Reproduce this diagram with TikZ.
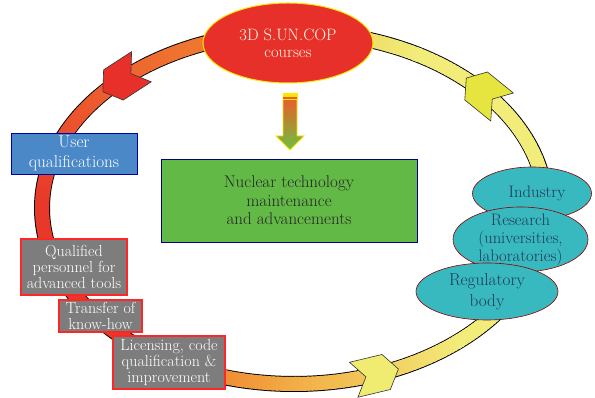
\documentclass[tikz,border=0pt]{standalone}
\usepackage{fontspec}
\usepackage{xcolor}
\usetikzlibrary{positioning,shapes.geometric,shapes.symbols,calc}
\definecolor{ringred}{HTML}{E8382A}
\definecolor{ringorange}{HTML}{F08A32}
\definecolor{ringamber}{HTML}{F2AE46}
\definecolor{ringyellow}{HTML}{F2EC7A}
\definecolor{ringgold}{HTML}{EBCF52}
\definecolor{sunred}{HTML}{E8302A}
\definecolor{arrowyellow}{HTML}{E6E43E}
\definecolor{flowtop}{HTML}{E8602A}
\definecolor{flowmid}{HTML}{D8CC34}
\definecolor{flowbot}{HTML}{6CC040}
\definecolor{techgreen}{HTML}{62B946}
\definecolor{userblue}{HTML}{4A88C8}
\definecolor{boxgray}{HTML}{7D7D7D}
\definecolor{actorcyan}{HTML}{38B9BF}
\definecolor{actortext}{HTML}{1F3A55}

\begin{document}
\begin{tikzpicture}[x=1pt,y=1pt,
  txt/.style={font=\fontsize{17}{18.5}\selectfont,align=center,inner sep=0pt},
  gbox/.style={txt,draw=red!85!white,line width=1.2pt,fill=boxgray,text=white,font=\fontsize{16}{16.2}\selectfont},
  actor/.style={txt,ellipse,inner sep=-8pt,draw=red!55!black,line width=0.6pt,fill=actorcyan,text=actortext,font=\fontsize{16.6}{18}\selectfont},
  chev/.style={signal,signal to=east,signal from=west,signal pointer angle=110,minimum width=46pt,minimum height=36pt,inner sep=0pt,draw=black!80,line width=0.6pt}]
  \useasboundingbox (0,0) rectangle (595,398);
  \coordinate (ctr) at (294,190);
  \draw[line width=16pt] (ctr) ellipse[x radius=252,y radius=176];
  \foreach \s/\e/\ca/\cb in {92/178/ringorange/ringred,178/236/ringred/ringred,236/252/ringred/ringorange,252/270/ringorange/ringamber,270/310/ringamber/ringyellow,310/420/ringyellow/ringyellow,420/448/ringyellow/ringgold}
    \foreach \a in {\s,...,\e} {
      \pgfmathtruncatemacro\p{100*(\a-\s)/(\e-\s)}
      \draw[line width=14pt,\cb!\p!\ca] ($(ctr)+(\a:252 and 176)$) arc[start angle=\a,end angle=\a+1.5,x radius=252,y radius=176];
    }
  \node[chev,fill=sunred,rotate=213] (arrL) at ($(ctr)+(133:252 and 176)$) {};
  \node[chev,fill=arrowyellow,rotate=141] (arrR) at ($(ctr)+(41:252 and 176)$) {};
  \node[chev,fill=ringyellow!85!arrowyellow,rotate=13.5] (arrB) at ($(ctr)+(289:252 and 176)$) {};

  \node[ellipse,fill=sunred,draw=yellow!90!orange,line width=1pt,minimum width=170pt,minimum height=80pt,inner sep=0pt,align=center,text=white!90!yellow,font=\fontsize{16.5}{17}\selectfont] (sun) at (288,355) {3D S.UN.COP\\[0pt]{\fontsize{16.5}{17}\selectfont courses}};

  \coordinate (flow) at (290,248);
  \shade[top color=flowtop,middle color=flowmid,bottom color=flowbot,draw=yellow!85!orange,line width=0.8pt]
    (flow) -- ++(14,14) -- ++(-7,0) -- ++(0,37) -- ++(-14,0) -- ++(0,-37) -- ++(-7,0) -- cycle;
  \fill[yellow!85!orange,draw=yellow!90!orange,line width=0.5pt] ($(flow)+(-7,51)$) rectangle ++(14,6);
  \fill[flowtop] ($(flow)+(-7,51)$) rectangle ++(14,1.6);

  \node[txt,draw=blue!55!black,line width=0.8pt,fill=techgreen,minimum width=256pt,minimum height=83pt,text=black!85] (tech) at (289,197.5) {Nuclear technology\\maintenance\\and advancements};

  \node[txt,draw=blue!65!black,line width=0.8pt,fill=userblue,minimum width=126pt,minimum height=41pt,text=white,font=\fontsize{17.2}{20}\selectfont] (user) at (74,244.5) {User\\qualifications};

  \node[gbox,minimum width=106pt,minimum height=56pt] (qual) at (74,131) {Qualified\\personnel for\\advanced tools};
  \node[gbox,minimum width=83pt,minimum height=32pt] (know) at (100.5,82) {Transfer of\\know-how};
  \node[gbox,minimum width=112pt,minimum height=53pt] (lic) at (169,35.5) {Licensing, code\\qualification \&\\improvement};

  \node[actor,minimum width=119pt,minimum height=53pt] (ind) at (532,204.5) {\hspace*{10pt}Industry};
  \node[actor,minimum width=135pt,minimum height=65pt] (res) at (520.5,158.5) {Research\\(universities,\\laboratories)};
  \node[actor,minimum width=142pt,minimum height=57pt,font=\fontsize{17.2}{21}\selectfont] (reg) at (487,106.5) {Regulatory\\body};
\end{tikzpicture}
\end{document}
